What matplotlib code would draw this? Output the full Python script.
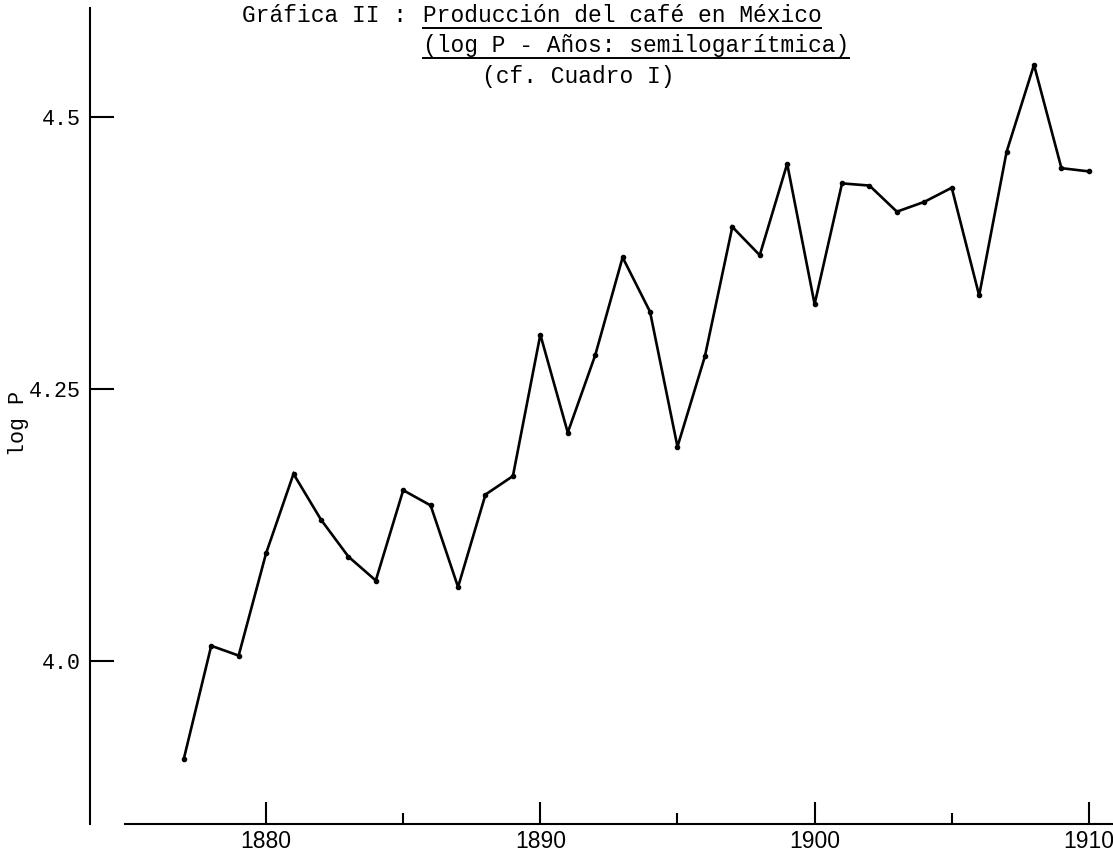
import matplotlib
matplotlib.use("Agg")
import matplotlib.pyplot as plt
from matplotlib.lines import Line2D

# Producción del café en México, log P por año
years = list(range(1877, 1911))
logp = [3.910, 4.014, 4.005, 4.099, 4.172, 4.130, 4.096, 4.074, 4.157, 4.143,
        4.068, 4.153, 4.170, 4.300, 4.210, 4.281, 4.371, 4.321, 4.197, 4.280,
        4.399, 4.373, 4.457, 4.328, 4.439, 4.437, 4.413, 4.422, 4.435, 4.336,
        4.468, 4.548, 4.453, 4.450]

xticks_major = [1880, 1890, 1900, 1910]
xticks_minor = [1885, 1895, 1905]
yticks = [4.0, 4.25, 4.5]
ytick_labels = ["4.0", "4.25", "4.5"]

title_a = "Gráfica II : "
title_b = "Producción del café en México"
title_2 = "(log P - Años: semilogarítmica)"
title_3 = "(cf. Cuadro I)"

W, H = 1113, 857
fig = plt.figure(figsize=(W / 100, H / 100), dpi=100)
fig.patch.set_facecolor("white")

# axes box in pixels: left 90, right 1113, top 8, bottom 824
ax = fig.add_axes([90 / W, (H - 824) / H, (W - 90) / W, (824 - 8) / H])
ax.set_xlim(1873.58, 1910.88)
ax.set_ylim(3.8502, 4.6002)

ax.plot(years, logp, color="black", lw=1.9, marker="o", ms=3, solid_joinstyle="miter")

for s in ["top", "right"]:
    ax.spines[s].set_visible(False)
ax.spines["left"].set_linewidth(1.5)
ax.spines["bottom"].set_linewidth(1.5)
ax.spines["bottom"].set_bounds(1874.86, 1910.88)

ax.set_xticks(xticks_major)
ax.set_xticks(xticks_minor, minor=True)
ax.set_xticklabels([str(y) for y in xticks_major],
                   fontfamily=["Liberation Sans", "DejaVu Sans"], fontsize=16.5)
ax.tick_params(axis="x", which="major", direction="in", length=16, width=1.5, pad=4.5)
ax.tick_params(axis="x", which="minor", direction="in", length=8, width=1.5)

mono = ["Liberation Mono", "DejaVu Sans Mono"]
ax.set_yticks(yticks)
ax.set_yticklabels(ytick_labels, fontfamily=mono, fontsize=15.6)
ax.tick_params(axis="y", direction="in", length=17, width=1.5, pad=6.5)

ax.set_ylabel("log P", fontfamily=mono, fontsize=15.6)
ax.yaxis.set_label_coords((29 - 90) / (W - 90), (824 - 424) / (824 - 8))

fs = 16.5
fig.text(241.7 / W, 1 - 22 / H, title_a, family=mono, fontsize=fs, va="baseline", ha="left")
t1b = fig.text(422.7 / W, 1 - 22 / H, title_b, family=mono, fontsize=fs, va="baseline", ha="left")
t2 = fig.text(422.7 / W, 1 - 52 / H, title_2, family=mono, fontsize=fs, va="baseline", ha="left")
fig.text(481.7 / W, 1 - 83 / H, title_3, family=mono, fontsize=fs, va="baseline", ha="left")

# underline the two title lines
fig.canvas.draw()
r = fig.canvas.get_renderer()
for t, base in [(t1b, 22), (t2, 52)]:
    bb = t.get_window_extent(r)
    y = 1 - (base + 6) / H
    fig.add_artist(Line2D([bb.x0 / W, bb.x1 / W], [y, y], color="black", lw=1.4,
                          transform=fig.transFigure))

fig.savefig("out.png", dpi=100, facecolor="white")
